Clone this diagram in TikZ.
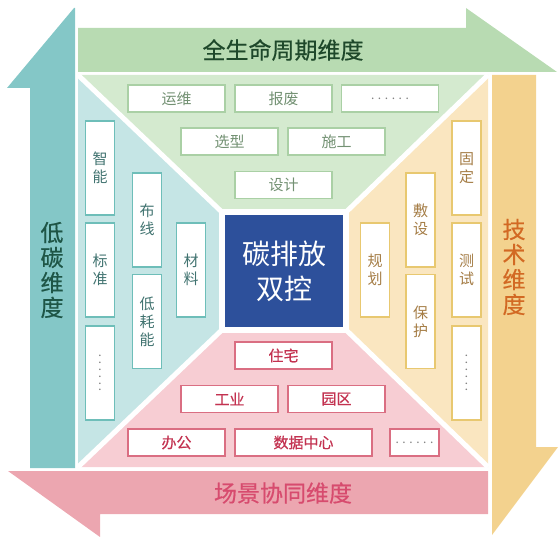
\documentclass[tikz,border=0pt]{standalone}
\usepackage{fontspec}
\newfontfamily\cjk{Noto Sans CJK SC}
\newfontfamily\cjkb[FakeBold=0.5]{Noto Sans CJK SC}
\definecolor{garrow}{RGB}{184,219,178}
\definecolor{gregion}{RGB}{212,234,207}
\definecolor{gborder}{RGB}{170,208,165}
\definecolor{gtext}{RGB}{115,145,115}
\definecolor{glabel}{RGB}{30,72,42}
\definecolor{tarrow}{RGB}{132,199,199}
\definecolor{tregion}{RGB}{197,229,229}
\definecolor{tborder}{RGB}{110,190,185}
\definecolor{ttext}{RGB}{65,115,112}
\definecolor{tlabel}{RGB}{30,85,70}
\definecolor{oarrow}{RGB}{243,210,142}
\definecolor{oregion}{RGB}{250,230,192}
\definecolor{oborder}{RGB}{232,200,112}
\definecolor{otext}{RGB}{165,125,70}
\definecolor{olabel}{RGB}{210,105,35}
\definecolor{parrow}{RGB}{236,166,176}
\definecolor{pregion}{RGB}{247,205,211}
\definecolor{pborder}{RGB}{218,110,130}
\definecolor{ptext}{RGB}{195,50,80}
\definecolor{plabel}{RGB}{215,75,110}
\definecolor{centerblue}{RGB}{45,80,155}
\definecolor{dotgray}{RGB}{130,130,130}
\begin{document}
\begin{tikzpicture}[x=1pt,y=-1pt,
  hbox/.style={draw, fill=white, line width=1.5pt, minimum width=97, minimum height=27, inner sep=0pt, font=\cjk\fontsize{15}{18}\selectfont},
  vbox/.style={draw, fill=white, line width=1.5pt, minimum width=29, minimum height=94, inner sep=0pt, align=center, font=\cjk\fontsize{15}{18}\selectfont},
  gbox/.style={hbox, draw=gborder, text=gtext},
  pbox/.style={hbox, draw=pborder, text=ptext, font=\cjkb\fontsize{15}{18}\selectfont},
  tbox/.style={vbox, draw=tborder, text=ttext},
  obox/.style={vbox, draw=oborder, text=otext},
  dotsfont/.style={font=\cjk\fontsize{12}{12}\selectfont, text=dotgray},
  dimlabel/.style={font=\cjkb\fontsize{23}{25}\selectfont, align=center, inner sep=0pt},
  sep/.style={white, line width=5pt}
]
\useasboundingbox (0,0) rectangle (560,537);
% arrows
\fill[tarrow] (30,468) -- (30,88) -- (7,88) -- (74,8) -- (75,8) -- (75,468) -- cycle;
\fill[garrow] (78,28) -- (466,28) -- (466,8) -- (557,72) -- (78,72) -- cycle;
\fill[oarrow] (492,75) -- (536,75) -- (536,447) -- (558,447) -- (492,535) -- cycle;
\fill[parrow] (488,471) -- (488,514) -- (100,514) -- (100,537) -- (8,471) -- cycle;
% regions
\fill[gregion] (78,75) -- (488,75) -- (343,215) -- (225,215) -- cycle;
\fill[tregion] (78,75) -- (225,215) -- (225,327) -- (78,467) -- cycle;
\fill[oregion] (488,75) -- (488,467) -- (343,327) -- (343,215) -- cycle;
\fill[pregion] (78,467) -- (225,327) -- (343,327) -- (488,467) -- cycle;
\draw[sep] (78,75) -- (225,215);
\draw[sep] (488,75) -- (343,215);
\draw[sep] (78,467) -- (225,327);
\draw[sep] (488,467) -- (343,327);
\fill[white] (219,209) rectangle (349,333);
% center
\node[fill=centerblue, minimum width=118, minimum height=112, inner sep=0pt, text=white, align=center,
  font=\cjk\fontsize{28}{35}\selectfont] (center) at (284,271) {碳排放\\双控};
% dimension labels
\node[dimlabel, text=glabel] (lifecycle) at (283,50) {全生命周期维度};
\node[dimlabel, text=tlabel] (lowcarbon) at (52,270) {低\\碳\\维\\度};
\node[dimlabel, text=olabel] (tech) at (514,267) {技\\术\\维\\度};
\node[dimlabel, text=plabel] (scene) at (283,493) {场景协同维度};
% green boxes
\node[gbox] (yunwei) at (176.5,98.5) {运维};
\node[gbox] (baofei) at (283.5,98.5) {报废};
\node[gbox, dotsfont] (gdots) at (390,98.5) {. . . . . .};
\node[gbox] (xuanxing) at (229.5,141.5) {选型};
\node[gbox] (shigong) at (336.5,141.5) {施工};
\node[gbox] (sheji) at (283.5,185) {设计};
% teal boxes
\node[tbox] (zhineng) at (100,168) {智\\能};
\node[tbox] (biaozhun) at (100,270) {标\\准};
\node[tbox, dotsfont, rotate=90, minimum width=94, minimum height=29] (tdots) at (100,373) {. . . . . .};
\node[tbox] (buxian) at (147,220) {布\\线};
\node[tbox] (dihaoneng) at (147,321.5) {低\\耗\\能};
\node[tbox] (cailiao) at (191,270) {材\\料};
% orange boxes
\node[obox] (guding) at (466.5,168) {固\\定};
\node[obox] (ceshi) at (466.5,270) {测\\试};
\node[obox, dotsfont, rotate=90, minimum width=94, minimum height=29] (odots) at (466.5,373) {. . . . . .};
\node[obox] (fushe) at (420.5,220) {敷\\设};
\node[obox] (baohu) at (420.5,321.5) {保\\护};
\node[obox] (guihua) at (375,270) {规\\划};
% pink boxes
\node[pbox] (zhuzhai) at (283.5,355.5) {住宅};
\node[pbox] (gongye) at (229.5,399) {工业};
\node[pbox] (yuanqu) at (336.5,399) {园区};
\node[pbox] (bangong) at (176.5,442.5) {办公};
\node[pbox, minimum width=137] (shuju) at (303.5,442.5) {数据中心};
\node[pbox, dotsfont, minimum width=49] (pdots) at (414.5,442.5) {. . . . . .};
\end{tikzpicture}
\end{document}
